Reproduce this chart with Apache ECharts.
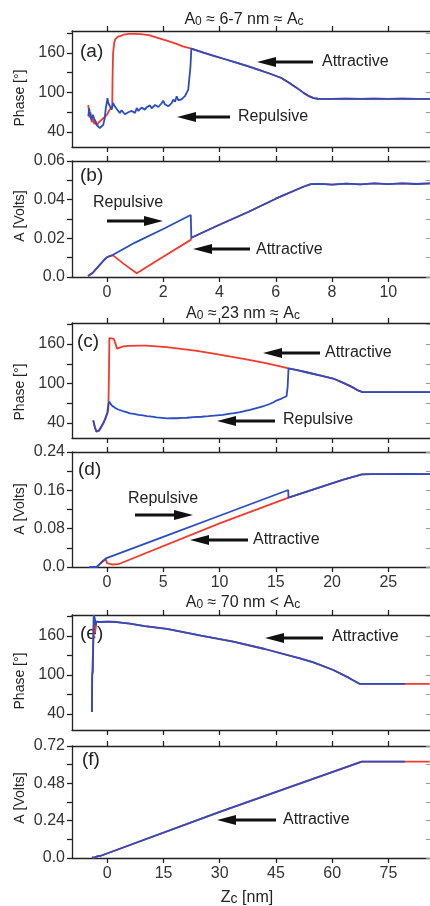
<!DOCTYPE html>
<html><head><meta charset="utf-8">
<script src="https://cdn.jsdelivr.net/npm/echarts@6/dist/echarts.min.js"></script>
<style>html,body{margin:0;padding:0;background:#fff}#c{width:430px;height:906px}</style>
</head><body><div id="c"></div>
<script>
// ---------- tick values ----------
const xTicksAB = [0, 2, 4, 6, 8, 10];
const xTicksCD = [0, 5, 10, 15, 20, 25];
const xTicksEF = [0, 15, 30, 45, 60, 75];
const phaseTicks = [40, 70, 100, 130, 160, 190];
const phaseLabels = [40, 100, 160];
const ampTicksB = [0, 0.01, 0.02, 0.03, 0.04, 0.05, 0.06];
const ampLabelsB = [0, 0.02, 0.04, 0.06];
const ampTicksD = [0, 0.04, 0.08, 0.12, 0.16, 0.20, 0.24];
const ampLabelsD = [0, 0.08, 0.16, 0.24];
const ampTicksF = [0, 0.12, 0.24, 0.36, 0.48, 0.60, 0.72];
const ampLabelsF = [0, 0.24, 0.48, 0.72];

// ---------- panel (a) phase, A0 ~ 6-7 nm ----------
const aRedHead = [[-0.66,81],[-0.62,62],[-0.58,70],[-0.54,55],[-0.5,60],[-0.45,52],[-0.4,56],[-0.35,50],[-0.3,54],[-0.25,52],[-0.2,58],[-0.15,55],[-0.1,62],[-0.05,60],[0.0,66],[0.05,70],[0.1,74],[0.15,72],[0.19,78],[0.2,120],[0.22,160],[0.26,176],[0.3,181],[0.35,180],[0.4,185],[0.5,186],[0.6,188],[0.8,189],[1.0,189],[1.2,188.5],[1.5,187],[1.8,183],[2.1,179],[2.4,175],[2.7,170]];
const aBlueHead = [[-0.66,64],[-0.63,76],[-0.6,66],[-0.55,59],[-0.5,66],[-0.45,60],[-0.4,56],[-0.37,51],[-0.3,49],[-0.25,46],[-0.19,43.5],[-0.13,51],[-0.08,60],[-0.04,76],[0.0,85],[0.02,91.6],[0.05,84],[0.08,81.5],[0.12,78],[0.17,73.9],[0.22,84],[0.28,79],[0.34,76.4],[0.4,72],[0.46,68.8],[0.52,73],[0.58,71.3],[0.64,67],[0.7,65.3],[0.76,70],[0.82,68.8],[0.88,72],[0.94,71.3],[1.0,69],[1.06,76.4],[1.12,72],[1.17,73.9],[1.23,77],[1.29,79],[1.35,74],[1.41,77.4],[1.47,80],[1.53,80.5],[1.59,76],[1.65,77.4],[1.71,81],[1.77,82.5],[1.83,78],[1.89,80.5],[1.95,84],[2.0,87.6],[2.06,82],[2.12,82.5],[2.18,79],[2.24,76.4],[2.3,84],[2.36,89.1],[2.42,86],[2.48,94.1],[2.54,88],[2.6,86.6],[2.66,90],[2.72,91.6],[2.78,95],[2.84,97.7],[2.89,104.3],[2.95,106],[2.97,140]];
const aShared = [[3.0,166.5],[3.4,161],[3.8,155.5],[4.2,150.5],[4.6,145.5],[5.0,140],[5.4,134.5],[5.8,128.5],[6.2,122],[6.5,114],[6.75,107],[7.0,99],[7.2,94],[7.35,91.5],[7.5,90.5],[8,90.3],[8.5,90.7],[9,90.2],[9.5,90.6],[10,90.3],[10.5,90.7],[11,90.2],[11.5,90.4]];

// ---------- panel (b) amplitude ----------
const bBlueHead = [[-0.67,0.0005],[-0.5,0.0022],[-0.3,0.0055],[-0.1,0.0088],[0.0,0.0102],[0.1,0.0108],[0.22,0.0115],[1.0,0.0178],[2.0,0.0248],[2.98,0.0321]];
const bRedHead = [[-0.67,0.0005],[-0.5,0.0022],[-0.3,0.0055],[-0.1,0.0088],[0.0,0.0102],[0.1,0.0108],[0.22,0.0112],[0.6,0.0068],[1.06,0.0019],[2.0,0.0105],[2.98,0.0192]];
const bShared = [[3.0,0.0203],[4.0,0.0270],[5.0,0.0335],[6.0,0.0405],[7.0,0.0468],[7.25,0.0480],[7.6,0.0482],[8,0.0478],[8.5,0.0483],[9,0.0479],[9.5,0.0484],[10,0.0480],[10.5,0.0484],[11,0.0481],[11.5,0.0484]];

// ---------- panel (c) phase, A0 ~ 23 nm ----------
const cRedHead = [[-1.22,44],[-1.1,35],[-0.95,27],[-0.86,24],[-0.7,28],[-0.5,34],[-0.33,39],[-0.15,46],[0.03,54],[0.12,60],[0.18,120],[0.21,169],[0.4,168.5],[0.6,168],[0.71,167],[0.8,158],[0.9,153],[1.0,152.4],[1.2,155],[1.45,156.4],[2.0,157.2],[2.9,157.6],[3.5,157.5],[5.3,155.4],[8.0,149.5],[9.6,145],[12.5,136.5],[14,131.5],[15.2,127]];
const cBlueHead = [[-1.22,44],[-1.1,35],[-0.95,27],[-0.86,25],[-0.7,29],[-0.5,35],[-0.33,40],[-0.15,47],[0.03,56],[0.12,68],[0.21,72.5],[0.3,71],[0.4,67],[0.56,64.8],[0.8,62],[1.0,60.5],[1.16,58.7],[1.5,57.5],[1.8,56],[2.05,54.6],[2.4,53.8],[2.8,52.5],[3.2,51.6],[3.53,50.5],[4.0,49.8],[4.4,48.5],[4.9,47.8],[5.3,47],[5.8,47.4],[6.2,47.2],[6.7,47.9],[7.09,48],[7.7,49],[8.4,49.5],[9.0,50.4],[9.76,51.6],[10.3,52.3],[10.8,53.8],[11.3,55],[11.83,56.6],[12.3,58.5],[12.7,60],[13.2,62.4],[13.6,64.3],[14.0,66.2],[14.4,68.5],[14.8,71.5],[15.1,74.5],[15.4,76.2],[15.6,78],[15.95,80.6],[16.05,95]];
const cShared = [[16.13,123],[17,120],[18,116],[19,112],[20.1,107.6],[21,101],[21.8,94.5],[22.3,89.5],[22.7,87],[23.5,87],[24.5,86.8],[25.5,87],[26.5,86.9],[27.5,87],[28.7,86.9]];

// ---------- panel (d) amplitude ----------
const dBlueHead = [[-1.55,0],[-0.92,0],[-0.7,0.005],[-0.4,0.012],[-0.1,0.018],[0.0,0.0205],[5,0.063],[10,0.107],[16.1,0.1607]];
const dRedHead = [[-1.55,0],[-0.92,0],[-0.7,0.005],[-0.4,0.011],[-0.1,0.016],[-0.02,0.0175],[0.0,0.008],[0.1,0.0055],[0.5,0.0052],[1.0,0.0058],[10,0.091]];
const dShared = [[16.13,0.1447],[21,0.1825],[22.66,0.1935],[23.5,0.194],[25,0.1938],[26.5,0.1942],[28.7,0.194]];

// ---------- panel (e) phase, A0 ~ 70 nm ----------
const eBlue = [[-4.1,43],[-4.07,70],[-4.03,100],[-3.95,101],[-3.85,105],[-3.75,150],[-3.6,192],[-3.45,192],[-3.3,186],[-3.1,176],[-2.95,182],[-2.6,181.5],[-2,181.5],[0,182],[2.5,181.5],[6,179],[10,175.2],[15.9,170.8],[25,160.6],[33.6,151.2],[42,140],[51.4,125.7],[55,119.5],[60.3,107.7],[64.5,95.5],[67.4,86.2],[70,86.2],[73,86.3],[76,86.2],[79.4,86.2]];
const eRed = [[-4.1,43],[-4.03,100],[-3.75,150],[-3.6,192],[-3.45,190],[-3.3,165],[-3.1,172],[-2.95,182],[-2,181.5],[0,182],[2.5,181.5],[6,179],[10,175.2],[15.9,170.8],[25,160.6],[33.6,151.2],[42,140],[51.4,125.7],[55,119.5],[60.3,107.7],[64.5,95.5],[67.4,86.2],[73,86.3],[79.4,86.2],[82,86.2],[86,86.3]];

// ---------- panel (f) amplitude ----------
const fBlue = [[-4.1,0.004],[-3.8,0.0],[-3.5,0.003],[-3.0,0.009],[-2.5,0.012],[-1.9,0.013],[30,0.296],[67.9,0.619],[72,0.619],[76,0.6195],[79.4,0.619]];
const fRed = [[-4.1,0.004],[-3.8,0.0],[-3.5,0.003],[-3.0,0.009],[-2.5,0.012],[-1.9,0.013],[30,0.296],[67.9,0.619],[72,0.619],[79.4,0.619],[82,0.619],[86,0.6195]];

// ---------- layout ----------
const FONT = '"Liberation Sans", Arial, sans-serif';
const RED = '#f03a2c', BLUE = '#2a4dc2', INK = '#222';
const grids = [
  {top: 31, height: 116, xr: [-1.24, 11.48], yr: [17.2, 193.4], xt: xTicksAB, xl: false, yt: phaseTicks, yl: phaseLabels},
  {top: 161, height: 116, xr: [-1.24, 11.48], yr: [0, 0.06], xt: xTicksAB, xl: true, yt: ampTicksB, yl: ampLabelsB},
  {top: 323, height: 115, xr: [-3.11, 28.7], yr: [17.2, 192], xt: xTicksCD, xl: false, yt: phaseTicks, yl: phaseLabels},
  {top: 452, height: 115, xr: [-3.11, 28.7], yr: [0, 0.24], xt: xTicksCD, xl: true, yt: ampTicksD, yl: ampLabelsD},
  {top: 615, height: 115, xr: [-9.42, 86.1], yr: [15.4, 192.3], xt: xTicksEF, xl: false, yt: phaseTicks, yl: phaseLabels},
  {top: 746, height: 112, xr: [-9.42, 86.1], yr: [0, 0.72], xt: xTicksEF, xl: true, yt: ampTicksF, yl: ampLabelsF}
];
const lineSt = {color: INK, width: 1.3};
const grid = [], xAxis = [], yAxis = [];
grids.forEach((g, i) => {
  grid.push({left: 72, width: 358, top: g.top, height: g.height});
  xAxis.push({type: 'value', gridIndex: i, position: 'bottom', min: g.xr[0], max: g.xr[1],
    axisLine: {show: true, onZero: false, lineStyle: lineSt},
    axisTick: {show: true, inside: false, length: 5, lineStyle: lineSt, customValues: g.xt},
    axisLabel: {show: g.xl, customValues: g.xt, margin: 8, fontSize: 16, color: '#333', fontFamily: FONT},
    splitLine: {show: false}});
  xAxis.push({type: 'value', gridIndex: i, position: 'top', min: g.xr[0], max: g.xr[1],
    axisLine: {show: true, onZero: false, lineStyle: lineSt},
    axisTick: {show: true, inside: false, length: 5, lineStyle: lineSt, customValues: g.xt},
    axisLabel: {show: false}, splitLine: {show: false}});
  yAxis.push({type: 'value', gridIndex: i, position: 'left', min: g.yr[0], max: g.yr[1],
    axisLine: {show: true, onZero: false, lineStyle: lineSt},
    axisTick: {show: true, inside: false, length: 5, lineStyle: lineSt, customValues: g.yt},
    axisLabel: {show: true, customValues: g.yl, margin: 7, fontSize: 16, color: '#333', fontFamily: FONT,
      formatter: v => (v === 0 ? '0.0' : String(v))},
    splitLine: {show: false}});
  yAxis.push({type: 'value', gridIndex: i, position: 'right', min: g.yr[0], max: g.yr[1],
    axisLine: {show: false, onZero: false},
    axisTick: {show: true, inside: true, length: 4, lineStyle: {color: '#999', width: 1}, customValues: g.yt},
    axisLabel: {show: false}, splitLine: {show: false}});
});

function ser(i, data, color) {
  return {type: 'line', xAxisIndex: 2 * i, yAxisIndex: 2 * i, data: data, showSymbol: false, silent: true,
    lineStyle: {color: color, width: 1.8}, itemStyle: {color: color}, animation: false};
}
const series = [
  ser(0, aRedHead.concat(aShared), RED), ser(0, aBlueHead.concat(aShared), BLUE),
  ser(1, bRedHead.concat(bShared), RED), ser(1, bBlueHead.concat(bShared), BLUE),
  ser(2, cRedHead.concat(cShared), RED), ser(2, cBlueHead.concat(cShared), BLUE),
  ser(3, dRedHead.concat(dShared), RED), ser(3, dBlueHead.concat(dShared), BLUE),
  ser(4, eRed, RED), ser(4, eBlue, BLUE),
  ser(5, fRed, RED), ser(5, fBlue, BLUE)
];

// ---------- annotations (pixel layout) ----------
const graphic = [];
function txt(x, y, text, size, extra) {
  graphic.push(Object.assign({type: 'text', x: x, y: y, silent: true,
    style: {text: text, fill: INK, font: size + 'px ' + FONT, align: 'left', verticalAlign: 'middle'}}, extra || {}));
}
function arrow(tipX, tailX, y) {
  const dir = tailX > tipX ? 1 : -1, hl = 19, hw = 5;
  graphic.push({type: 'line', silent: true, shape: {x1: tipX + dir * (hl - 2), y1: y, x2: tailX, y2: y},
    style: {stroke: '#111', lineWidth: 3}});
  graphic.push({type: 'polygon', silent: true,
    shape: {points: [[tipX, y], [tipX + dir * hl, y - hw], [tipX + dir * hl, y + hw]]}, style: {fill: '#111'}});
}
function title(x, y, mid) {
  graphic.push({type: 'text', x: x, y: y, silent: true,
    style: {text: '{n|A}{s|0}{n|' + mid + 'A}{s|c}', align: 'center', verticalAlign: 'middle', fill: INK,
      rich: {n: {fontSize: 16, fontFamily: FONT, fill: INK, verticalAlign: 'bottom', lineHeight: 18},
             s: {fontSize: 12, fontFamily: FONT, fill: INK, verticalAlign: 'bottom', lineHeight: 17}}}});
}
function yname(x, y, text) {
  graphic.push({type: 'text', x: x, y: y, rotation: Math.PI / 2, silent: true,
    style: {text: text, fill: INK, font: '14px ' + FONT, align: 'center', verticalAlign: 'middle'}});
}
title(244, 19, ' ≈ 6-7 nm ≈ ');
title(243, 313, ' ≈ 23 nm ≈ ');
title(243, 602, ' ≈ 70 nm < ');
txt(80, 52, '(a)', 19); txt(80, 176, '(b)', 19); txt(77, 342, '(c)', 19);
txt(78, 470, '(d)', 19); txt(80, 634, '(e)', 19); txt(82, 760, '(f)', 19);
yname(20, 98, 'Phase [°]'); yname(20, 216, 'A [Volts]');
yname(20, 392, 'Phase [°]'); yname(20, 509, 'A [Volts]');
yname(20, 681, 'Phase [°]'); yname(20, 798, 'A [Volts]');
graphic.push({type: 'text', x: 247, y: 897, silent: true,
  style: {text: '{n|Z}{s|c}{n| [nm]}', align: 'center', verticalAlign: 'middle', fill: INK,
    rich: {n: {fontSize: 16, fontFamily: FONT, fill: INK, verticalAlign: 'bottom', lineHeight: 18},
           s: {fontSize: 14, fontFamily: FONT, fill: INK, verticalAlign: 'bottom', lineHeight: 17}}}});
// (a)
arrow(257, 313, 62); txt(322, 62, 'Attractive', 16);
arrow(177, 230, 117); txt(238, 117, 'Repulsive', 16);
// (b)
txt(93, 203, 'Repulsive', 16); arrow(163, 107, 221);
arrow(193, 250, 249); txt(256, 250, 'Attractive', 16);
// (c)
arrow(263, 320, 353); txt(325, 353, 'Attractive', 16);
arrow(217, 275, 421); txt(283, 420, 'Repulsive', 16);
// (d)
txt(128, 499, 'Repulsive', 16); arrow(193, 135, 515);
arrow(190, 248, 540); txt(253, 540, 'Attractive', 16);
// (e)
arrow(265, 323, 638); txt(332, 637, 'Attractive', 16);
// (f)
arrow(217, 276, 820); txt(283, 820, 'Attractive', 16);

const chart = echarts.init(document.getElementById('c'), null, {renderer: 'canvas'});
chart.setOption({animation: false, backgroundColor: '#fff', grid, xAxis, yAxis, series, graphic});
</script>
</body></html>
